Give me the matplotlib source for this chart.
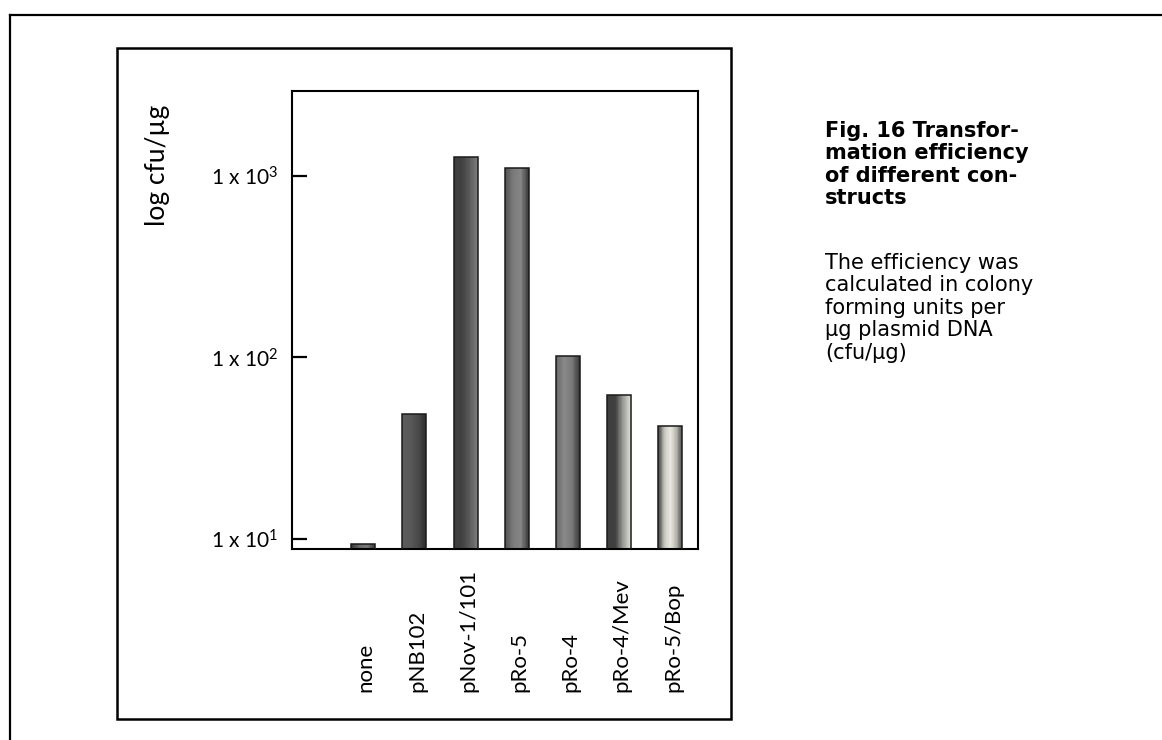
import numpy as np
import matplotlib
matplotlib.use('Agg')
import matplotlib.pyplot as plt
from matplotlib.colors import LinearSegmentedColormap
from matplotlib.patches import Rectangle

plt.rcParams['mathtext.fontset'] = 'custom'
plt.rcParams['mathtext.rm'] = 'Lato'
plt.rcParams['mathtext.it'] = 'Lato:italic'

# constructs and transformation efficiency (cfu/µg)
constructs = ['none', 'pNB102', 'pNov-1/101', 'pRo-5', 'pRo-4', 'pRo-4/Mev', 'pRo-5/Bop']
cfu = [9.4, 49, 1270, 1100, 102, 62, 42]
tick_vals = [10, 100, 1000]
tick_text = ['1 x 10$^{1}$', '1 x 10$^{2}$', '1 x 10$^{3}$']

# horizontal shading of each bar, left -> right
shades = [
    ['#3a3a3a', '#6a6a6a', '#7a7a7a', '#3a3a3a'],
    ['#5c5c5c', '#585858', '#4a4a4a', '#2c2c2c'],
    ['#3e3e3e', '#404040', '#5a5a5a', '#7a7a7a'],
    ['#505050', '#7a7a7a', '#858585', '#3c3c3c'],
    ['#6a6a6a', '#888888', '#7a7a7a', '#383838'],
    ['#3e3e3e', '#404040', '#9a9a96', '#e2e2da'],
    ['#4a4a4a', '#c8c8c0', '#eaeae2', '#b8b8b0', '#505050'],
]

W, H = 1162, 740
fig = plt.figure(figsize=(W / 100, H / 100), dpi=100)


def fbox(x0, y0, x1, y1):
    # pixel box (top-left origin) -> figure fraction rect
    return [x0 / W, 1 - y1 / H, (x1 - x0) / W, (y1 - y0) / H]


# outer frame (only top and left edges fall inside the page)
fig.add_artist(plt.Line2D([10 / W, 10 / W], [0, 1 - 15 / H], color='black', lw=1.6, transform=fig.transFigure))
fig.add_artist(plt.Line2D([10 / W, 1], [1 - 15 / H, 1 - 15 / H], color='black', lw=1.6, transform=fig.transFigure))

# box round the chart
r = fbox(117, 48, 731, 719)
fig.add_artist(Rectangle((r[0], r[1]), r[2], r[3], transform=fig.transFigure,
                         fill=False, edgecolor='black', lw=1.8))

ax = fig.add_axes(fbox(292, 91, 698, 549))
ax.set_yscale('log')
ax.set_ylim(8.8, 2940)
ax.set_xlim(-1.39, 6.54)

x = np.arange(len(constructs))
bw = 0.47
nstrip = 30
for i, (xi, v) in enumerate(zip(x, cfu)):
    cmap = LinearSegmentedColormap.from_list('bar%d' % i, shades[i])
    sw = bw / nstrip
    lefts = xi - bw / 2 + sw * np.arange(nstrip)
    ax.bar(lefts, [v] * nstrip, width=sw * 1.05, align='edge',
           color=cmap(np.linspace(0, 1, nstrip)), linewidth=0, zorder=2)
ax.bar(x, cfu, width=bw, facecolor='none', edgecolor='#1a1a1a', linewidth=1.1, zorder=3)

for s in ax.spines.values():
    s.set_linewidth(1.5)
ax.set_xticks([])
ax.set_yticks(tick_vals)
ax.set_yticklabels(tick_text, family='Lato', fontsize=15)
ax.minorticks_off()
ax.tick_params(axis='y', direction='in', length=10.5, width=1.6, pad=10)

for xi, name in zip(x, constructs):
    ax.text(xi + 0.05, -0.312, name, transform=ax.get_xaxis_transform(), rotation=90,
            ha='center', va='bottom', family='Lato', fontsize=16)

fig.text(157 / W, 1 - 165 / H, 'log cfu/µg', rotation=90, ha='center', va='center',
         family='Lato', fontsize=19)

fig.text(825 / W, 1 - 121 / H, 'Fig. 16 Transfor-\nmation efficiency\nof different con-\nstructs',
         ha='left', va='top', family='DejaVu Sans', fontweight='bold', fontsize=15, linespacing=1.15)
fig.text(825 / W, 1 - 253 / H, 'The efficiency was\ncalculated in colony\nforming units per\nµg plasmid DNA\n(cfu/µg)',
         ha='left', va='top', family='DejaVu Sans', fontsize=15, linespacing=1.15)

fig.savefig('out.png', dpi=100, facecolor='white')
